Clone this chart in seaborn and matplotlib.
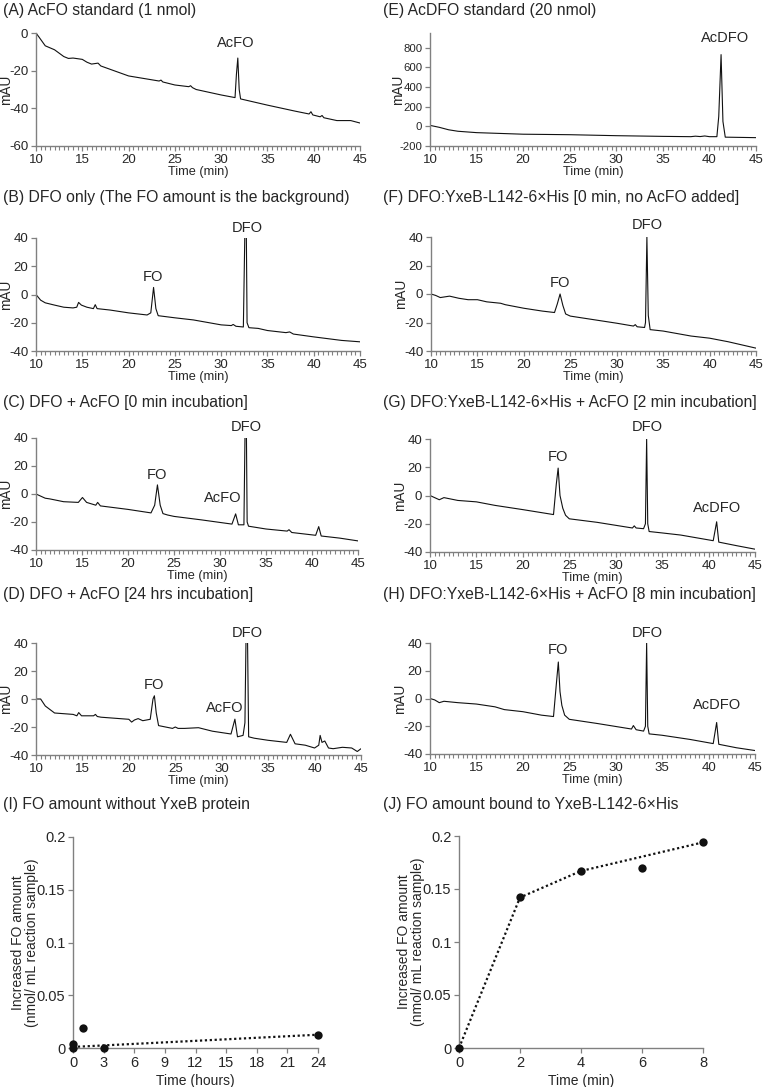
import matplotlib
matplotlib.use("Agg")
import matplotlib.pyplot as plt
from matplotlib.ticker import MultipleLocator
import pandas as pd
import seaborn as sns

sns.set_style("ticks")
plt.rcParams["font.family"] = ["Liberation Sans", "DejaVu Sans"]

W, H = 765, 1087
LINE = "#111111"
AXIS = "#808080"

# ---------------------------------------------------------------------------
# Chromatogram traces (time in min, absorbance in mAU)
# ---------------------------------------------------------------------------
A_time = [10, 10.3, 11, 12, 13, 13.5, 14, 15, 15.5, 16, 16.7, 17, 20, 23.3, 23.5, 23.7, 25, 26.5,
          26.7, 26.9, 27.3, 30, 31.5, 31.65, 31.8, 31.95, 32.1, 35, 38, 39.5, 39.7, 39.9, 40.7,
          40.9, 41.1, 42.5, 44, 45]
A_mau = [0, -2, -6.8, -8.9, -12.5, -13.5, -13.3, -14, -15.5, -16.5, -16, -17.5, -22.8, -25.5, -25,
         -26, -27.6, -28.5, -28, -29, -30, -32.9, -34.3, -22, -13.3, -30, -35, -38.3, -41.5, -43,
         -41.8, -43.5, -44.5, -43.8, -45, -46.5, -46.5, -47.8]

E_time = [10, 11, 12, 13, 15, 20, 25, 30, 35, 38, 38.5, 39, 39.5, 40, 40.8, 41.0, 41.25, 41.45,
          41.7, 43, 45]
E_mau = [10, -10, -35, -50, -64, -80, -85, -95, -102, -105, -100, -104, -98, -105, -105, 100, 730,
         50, -110, -112, -115]

B_time = [10, 10.5, 11, 12, 13, 14, 14.4, 14.6, 14.9, 15.5, 16.2, 16.4, 16.6, 18, 20, 22, 22.4,
          22.7, 22.95, 23.2, 25, 27, 30, 31.1, 31.3, 31.6, 32.4, 32.6, 32.7, 32.8, 33.0, 34, 35, 37,
          37.4, 37.8, 40, 43, 45]
B_mau = [0, -4, -5.9, -7.5, -9, -9.5, -9, -5.6, -7.5, -9, -10, -7.2, -10, -11, -13, -14.5, -13, 5,
         -10, -15, -16.5, -18, -21.5, -22, -21.2, -22.5, -23, 60, 60, -20, -23.5, -24, -25.5, -27,
         -26.5, -28, -30, -32.5, -33.5]

F_time = [10, 10.5, 11, 12, 13, 14, 15, 16, 17.5, 18, 20, 22, 23.3, 23.6, 23.9, 24.2, 24.5, 25, 27,
          30, 31.8, 32, 32.2, 33, 33.1, 33.25, 33.4, 33.6, 35, 38, 40, 42, 45]
F_mau = [0, -1, -2.5, -1.5, -3, -4, -4, -5.5, -6.5, -7.5, -10, -12, -13, -7, 0, -8, -14, -15.5,
         -17.5, -20.5, -22.5, -21.5, -23, -23.5, -20, 40, -15, -25, -26, -29.5, -31, -33.5, -38]

C_time = [10, 11, 11.5, 13, 14.6, 15.05, 15.5, 16.5, 16.7, 17, 20, 22.5, 22.9, 23.2, 23.5, 23.8,
          24.3, 25, 28, 31.3, 31.7, 32.0, 32.6, 32.75, 32.85, 32.95, 33.1, 35, 37.3, 37.5, 37.8,
          40.4, 40.73, 41.0, 43, 45]
C_mau = [0, -3, -3.5, -5.5, -6, -2.5, -6, -8, -6, -8.5, -11, -13.5, -8, 6.5, -8, -14, -15, -16,
         -18.5, -21.5, -14.2, -22, -22, 60, 60, -20, -23, -25, -26.5, -25.5, -27.5, -29.5, -23.3,
         -30, -31.5, -33.5]

G_time = [10, 10.5, 11, 11.5, 13, 15, 17, 20, 23.3, 23.6, 23.8, 24.0, 24.3, 24.6, 25, 28, 31.8, 32,
          32.2, 33, 33.2, 33.33, 33.45, 33.6, 35, 37, 40.5, 40.87, 41.1, 43, 45]
G_mau = [0, -1.5, -3, -1.5, -3.5, -4.5, -7, -10, -13.5, 8, 19.4, 0, -9, -14, -16.5, -19, -23,
         -21.5, -23, -23.5, -20, 40, -20, -25.5, -26.5, -28, -32, -18.6, -33, -35.5, -38]

D_time = [10, 10.5, 11, 12, 14, 14.4, 14.6, 14.9, 16.2, 16.4, 16.6, 17, 20, 20.3, 20.6, 21, 21.5,
          22.3, 22.6, 22.75, 22.95, 23.2, 24.7, 25, 25.3, 26, 27.5, 29, 31, 31.42, 31.7, 32.3, 32.5,
          32.65, 32.75, 32.9, 33.5, 35, 37, 37.4, 37.9, 39, 40, 40.45, 40.6, 40.8, 41.1, 41.5, 42,
          43, 44, 44.6, 45]
D_mau = [0, 0, -5, -10, -11, -12, -9.7, -12, -12, -11, -12.5, -13, -14.5, -16.5, -15, -14, -15.5,
         -14.5, 0, 2.3, -10, -19, -21, -20, -21, -21, -20.5, -23, -25, -14.4, -27, -26, -17, 60, 60,
         -27, -28, -29.5, -31, -25.2, -32, -33, -35, -33, -26, -31, -30, -35, -35.5, -34.5, -35,
         -37.5, -35.5]

H_time = [10, 10.5, 11, 11.5, 13, 15, 17, 18, 20, 22, 23.3, 23.6, 23.82, 24.0, 24.2, 24.5, 25, 28,
          31.7, 31.9, 32.2, 33, 33.2, 33.33, 33.45, 33.6, 35, 38, 40.5, 40.87, 41.1, 43, 45]
H_mau = [0, -1, -3, -2, -3, -4, -6, -8, -9.5, -12, -13, 10, 26.3, 5, -5, -12, -15, -18, -22, -19.5,
         -22.5, -23.5, -20, 40, -20, -25.5, -26.5, -29.5, -32.5, -17.3, -33, -35.5, -37.5]

# FO amounts (nmol / mL reaction sample)
I_hours = [0, 0, 1, 3, 24]
I_fo = [0.0, 0.0038, 0.019, 0.0, 0.0126]
I_trend_hours = [0, 24]
I_trend_fo = [0.001, 0.0126]

J_min = [0, 2, 4, 6, 8]
J_fo = [0.0, 0.142, 0.167, 0.1695, 0.194]
J_line_min = [0, 2, 4, 8]
J_line_fo = [0.0, 0.142, 0.167, 0.194]

fig = plt.figure(figsize=(W / 100, H / 100), dpi=100)


def px_axes(l, t, r, b):
    ax = fig.add_axes([l / W, 1 - b / H, (r - l) / W, (b - t) / H])
    ax._px_width = r - l
    return ax


def title(x, y, s):
    fig.text(x / W, 1 - y / H, s, fontsize=11.3, ha="left", va="center")


def place_ylabel(ax, gap_px):
    # right edge of the rotated label sits gap_px left of the y axis
    ax.yaxis.set_label_coords(-gap_px / ax._px_width, 0.5)


def style_axes(ax, fs):
    for side in ("top", "right"):
        ax.spines[side].set_visible(False)
    for side in ("left", "bottom"):
        ax.spines[side].set_color(AXIS)
        ax.spines[side].set_linewidth(1.0)
    ax.tick_params(which="both", direction="out", color=AXIS, labelsize=fs, pad=2)
    ax.tick_params(which="major", length=3.5, width=0.9)
    ax.tick_params(which="minor", length=3, width=0.8)


def chromatogram(box, time, mau, ylim, yticks, peaks, yfs=9.5, gap=23):
    ax = px_axes(*box)
    df = pd.DataFrame({"time": time, "mau": mau})
    sns.lineplot(data=df, x="time", y="mau", ax=ax, color=LINE, lw=0.8,
                 sort=False, estimator=None)
    ax.set_xlim(10, 45)
    ax.set_ylim(*ylim)
    ax.set_xticks(range(10, 46, 5))
    ax.xaxis.set_minor_locator(MultipleLocator(0.5))
    ax.set_yticks(yticks)
    ax.set_yticklabels([str(v) for v in yticks])
    ax.set_xlabel("Time (min)", fontsize=9.2, labelpad=0)
    ax.set_ylabel("mAU", fontsize=9.8)
    place_ylabel(ax, gap)
    style_axes(ax, 9.5)
    ax.tick_params(axis="y", labelsize=yfs)
    for name, x, y in peaks:
        ax.text(x, y, name, fontsize=10.5, ha="center", va="center", clip_on=False)
    return ax


chromatogram((36, 33, 360, 146), A_time, A_mau, (-60, 0), [-60, -40, -20, 0],
             [("AcFO", 31.6, -5.3)])
chromatogram((430, 33, 756, 146), E_time, E_mau, (-200, 950), [-200, 0, 200, 400, 600, 800],
             [("AcDFO", 41.7, 900)], yfs=8.2, gap=25)
chromatogram((36, 238, 360, 351), B_time, B_mau, (-40, 40), [-40, -20, 0, 20, 40],
             [("FO", 22.6, 12.4), ("DFO", 32.8, 47)])
chromatogram((431, 237, 756, 351), F_time, F_mau, (-40, 40), [-40, -20, 0, 20, 40],
             [("FO", 23.9, 7.7), ("DFO", 33.3, 48.4)])
chromatogram((36, 438, 358, 550), C_time, C_mau, (-40, 40), [-40, -20, 0, 20, 40],
             [("FO", 23.1, 13.6), ("AcFO", 30.3, -2.9), ("DFO", 32.9, 47.9)])
chromatogram((430, 439, 755, 552), G_time, G_mau, (-40, 40), [-40, -20, 0, 20, 40],
             [("FO", 23.8, 27.2), ("DFO", 33.4, 48.5), ("AcDFO", 40.9, -9)])
chromatogram((36, 643, 361, 755), D_time, D_mau, (-40, 40), [-40, -20, 0, 20, 40],
             [("FO", 22.7, 10), ("AcFO", 30.3, -6.4), ("DFO", 32.8, 47)])
chromatogram((430, 643, 755, 754), H_time, H_mau, (-40, 40), [-40, -20, 0, 20, 40],
             [("FO", 23.8, 35), ("DFO", 33.4, 47), ("AcDFO", 40.9, -5)])

title(3, 11, "(A) AcFO standard (1 nmol)")
title(383, 11, "(E) AcDFO standard (20 nmol)")
title(3, 198, "(B) DFO only (The FO amount is the background)")
title(383, 198, "(F) DFO:YxeB-L142-6×His [0 min, no AcFO added]")
title(3, 402, "(C) DFO + AcFO [0 min incubation]")
title(383, 403, "(G) DFO:YxeB-L142-6×His + AcFO [2 min incubation]")
title(3, 595, "(D) DFO + AcFO [24 hrs incubation]")
title(383, 595, "(H) DFO:YxeB-L142-6×His + AcFO [8 min incubation]")
title(3, 805, "(I) FO amount without YxeB protein")
title(383, 805, "(J) FO amount bound to YxeB-L142-6×His")


def fo_panel(box, x, y, lx, ly, xlim, xticks, xlabel):
    ax = px_axes(*box)
    sns.lineplot(x=lx, y=ly, ax=ax, color=LINE, lw=1.6, ls=(0, (1, 1.2)),
                 sort=False, estimator=None, clip_on=False)
    sns.scatterplot(x=x, y=y, ax=ax, color=LINE, s=36, edgecolor=LINE, linewidth=0,
                    clip_on=False, zorder=5)
    ax.set_xlim(*xlim)
    ax.set_ylim(0, 0.2)
    ax.set_xticks(xticks)
    ax.set_yticks([0, 0.05, 0.1, 0.15, 0.2])
    ax.set_yticklabels(["0", "0.05", "0.1", "0.15", "0.2"])
    ax.set_xlabel(xlabel, fontsize=10, labelpad=3)
    ax.set_ylabel("Increased FO amount\n(nmol/ mL reaction sample)", fontsize=10,
                  linespacing=1.0)
    place_ylabel(ax, 34)
    style_axes(ax, 10.5)
    return ax


fo_panel((73, 837, 318, 1048), I_hours, I_fo, I_trend_hours, I_trend_fo,
         (0, 24), list(range(0, 25, 3)), "Time (hours)")
fo_panel((459, 836, 703, 1048), J_min, J_fo, J_line_min, J_line_fo,
         (0, 8), [0, 2, 4, 6, 8], "Time (min)")

fig.savefig("out.png", dpi=100)
